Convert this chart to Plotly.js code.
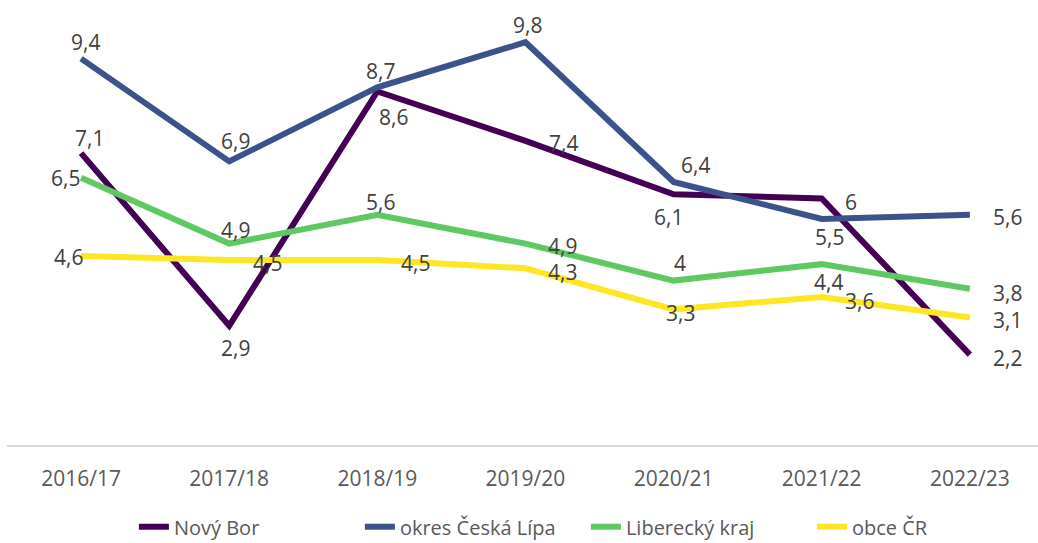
<!DOCTYPE html>
<html>
<head>
<meta charset="utf-8">
<script src="https://cdn.plot.ly/plotly-3.0.1.min.js"></script>
<style>html,body{margin:0;padding:0;background:#fff;}#chart{width:1038px;height:543px;}</style>
</head>
<body>
<div id="chart"></div>
<script>
const categories = ["2016/17","2017/18","2018/19","2019/20","2020/21","2021/22","2022/23"];
const seriesNames = ["Nový Bor","okres Česká Lípa","Liberecký kraj","obce ČR"];
const novyBor = [7.1, 2.9, 8.6, 7.4, 6.1, 6, 2.2];
const ceskaLipa = [9.4, 6.9, 8.7, 9.8, 6.4, 5.5, 5.6];
const liberecky = [6.5, 4.9, 5.6, 4.9, 4, 4.4, 3.8];
const obceCR = [4.6, 4.5, 4.5, 4.3, 3.3, 3.6, 3.1];

const colors = ["#440154", "#3B528B", "#5EC962", "#FDE725"];
const seriesValues = [novyBor, ceskaLipa, liberecky, obceCR];

// label offsets in pixels [dx, dy] (dy positive = down), per series per point
const labelOffsets = [
  [[8,-15],[6,22],[16,25],[38,2],[-5,23],[29,4],[38,3]],
  [[4,-17],[6,-20],[3,-16],[2,-17],[22,-17],[8,18],[38,2]],
  [[-16,0],[6,-14],[3,-13],[37,2],[6,-18],[7,18],[38,4]],
  [[-13,1],[38,3],[38,3],[37,4],[7,4],[38,4],[38,2]]
];

const fmt = v => String(v).replace('.', ',');

const traces = seriesValues.map((vals, s) => ({
  type: 'scatter',
  mode: 'lines',
  name: seriesNames[s],
  x: categories,
  y: vals,
  line: {color: colors[s], width: 6},
  hoverinfo: 'skip'
}));

const annotations = [];
seriesValues.forEach((vals, s) => {
  vals.forEach((v, i) => {
    annotations.push({
      x: categories[i], y: v, xref: 'x', yref: 'y',
      text: fmt(v), showarrow: false,
      xanchor: 'center', yanchor: 'middle',
      xshift: labelOffsets[s][i][0], yshift: -labelOffsets[s][i][1],
      font: {family: 'Open Sans, sans-serif', size: 21, color: '#404040'}
    });
  });
});

const layout = {
  width: 1038, height: 543,
  margin: {l: 7, r: 0, t: 20, b: 98, autoexpand: false},
  paper_bgcolor: '#ffffff', plot_bgcolor: '#ffffff',
  showlegend: true,
  legend: {
    orientation: 'h', xref: 'container', yref: 'container',
    x: 0.129, xanchor: 'left', y: 0.03, yanchor: 'middle',
    font: {family: 'Open Sans, sans-serif', size: 20, color: '#595959'},
    itemwidth: 30, traceorder: 'normal',
    entrywidth: 181, entrywidthmode: 'pixels'
  },
  xaxis: {
    type: 'category', range: [-0.5, 6.46],
    showline: true, linecolor: '#D9D9D9', linewidth: 2,
    showgrid: false, zeroline: false, ticks: '',
    ticklabelstandoff: 14,
    tickfont: {family: 'Open Sans, sans-serif', size: 21, color: '#595959'},
    fixedrange: true
  },
  yaxis: {
    range: [0, 10.34], showgrid: false, zeroline: false, showline: false,
    showticklabels: false, ticks: '', fixedrange: true
  },
  annotations: annotations,
  hovermode: false
};

Plotly.newPlot('chart', traces, layout, {displayModeBar: false, staticPlot: true});
</script>
</body>
</html>
